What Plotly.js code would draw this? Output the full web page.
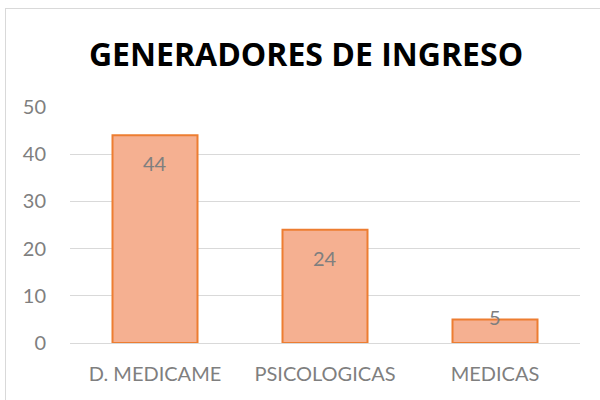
<!DOCTYPE html>
<html>
<head>
<meta charset="utf-8">
<script src="https://cdn.plot.ly/plotly-3.0.1.min.js"></script>
<style>
html,body{margin:0;padding:0;background:#fff;overflow:hidden;}
#chart{width:600px;height:400px;position:absolute;left:0;top:0;}
#frame{position:absolute;left:5px;top:8px;width:610px;height:410px;border:1px solid #D9D9D9;pointer-events:none;}
</style>
</head>
<body>
<div id="chart"></div>
<div id="frame"></div>
<script>
const categories = ["D. MEDICAME", "PSICOLOGICAS", "MEDICAS"];
const values = [44, 24, 5];
const tickVals = [0, 10, 20, 30, 40, 50];

const yMax = 50;
const plotH = 400 - 107 - 57;
const labelFont = {family: "Lato, 'Open Sans', sans-serif", size: 20, color: "#7F7F7F"};

const trace = {
  type: "bar",
  x: categories,
  y: values,
  marker: {color: "#F5B091", line: {color: "#ED7D31", width: 2}},
  width: 0.5,
  hoverinfo: "none"
};

const annotations = categories.map((c, i) => {
  const hPx = values[i] / yMax * plotH;
  return {
    x: c, y: values[i], xref: "x", yref: "y",
    text: String(values[i]), showarrow: false,
    yanchor: "middle", xanchor: "center",
    yshift: hPx > 60 ? -28 : 2,
    font: labelFont
  };
});

const layout = {
  width: 600, height: 400,
  margin: {l: 70, r: 20, t: 107, b: 57},
  paper_bgcolor: "#FFFFFF",
  plot_bgcolor: "#FFFFFF",
  title: {text: "<b>GENERADORES DE INGRESO</b>", x: 0.51, xanchor: "center", y: 0.862, yanchor: "middle",
          font: {family: "'Open Sans', Lato, sans-serif", size: 32, color: "#000000"}},
  xaxis: {type: "category", showgrid: false, zeroline: false, showline: false, ticks: "",
          ticklabelstandoff: 17,
          tickfont: {family: "Lato, 'Open Sans', sans-serif", size: 20, color: "#7F7F7F"}},
  yaxis: {range: [0, yMax], tickvals: tickVals, showgrid: true, gridcolor: "#D9D9D9", gridwidth: 1,
          zeroline: true, zerolinecolor: "#D9D9D9", zerolinewidth: 1, showline: false, ticks: "",
          ticklabelstandoff: 23,
          tickfont: {family: "Lato, 'Open Sans', sans-serif", size: 20, color: "#7F7F7F"}},
  annotations: annotations,
  showlegend: false,
  bargap: 0.5
};

Plotly.newPlot("chart", [trace], layout, {staticPlot: true, displayModeBar: false});
</script>
</body>
</html>
